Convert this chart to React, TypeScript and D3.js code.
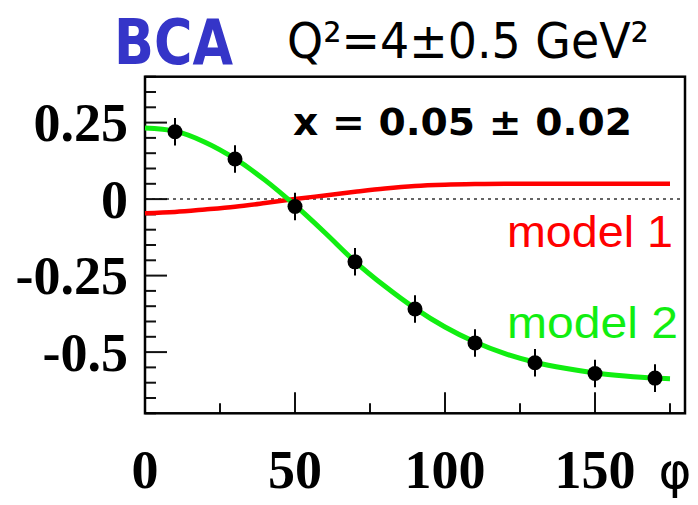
import * as d3 from 'd3';
import React from 'react';

// measured points (phi in degrees, BCA value, error)
const phiPoints = [10, 30, 50, 70, 90, 110, 130, 150, 170];
const bcaPoints = [0.22, 0.131, -0.024, -0.205, -0.359, -0.47, -0.535, -0.57, -0.585];
const bcaErrors = [0.045, 0.045, 0.045, 0.045, 0.045, 0.045, 0.045, 0.045, 0.045];

// model curves
const phiModel2 = [0, 10, 20, 30, 40, 50, 60, 70, 80, 90, 100, 110, 120, 130, 140, 150, 160, 170, 175];
const bcaModel2 = [0.232, 0.222, 0.186, 0.132, 0.062, -0.02, -0.11, -0.204, -0.285, -0.357, -0.418, -0.467, -0.505, -0.533, -0.553, -0.568, -0.578, -0.585, -0.587];
const phiModel1 = [0, 10, 20, 30, 40, 50, 60, 70, 80, 90, 100, 110, 120, 140, 160, 175];
const bcaModel1 = [-0.046, -0.042, -0.034, -0.025, -0.013, 0.0, 0.012, 0.024, 0.035, 0.043, 0.047, 0.049, 0.05, 0.05, 0.05, 0.05];

const xTickLabels = [0, 50, 100, 150];
const yTickLabels = [0.25, 0, -0.25, -0.5];

export default function App() {
  const svgRef = React.useRef<SVGSVGElement>(null);

  React.useEffect(() => {
    if (svgRef.current == null) {
      return;
    }
    const svg = d3.select(svgRef.current);
    svg.selectAll('*').remove();

    const left = 145;
    const right = 685;
    const top = 76.7;
    const bottom = 413.3;

    const xScale = d3.scaleLinear().domain([0, 180]).range([left, right]);
    const yScale = d3.scaleLinear().domain([-0.7, 0.4]).range([bottom, top]);

    // zero line
    svg
      .append('line')
      .attr('x1', left)
      .attr('x2', right)
      .attr('y1', yScale(0))
      .attr('y2', yScale(0))
      .attr('stroke', '#333')
      .attr('stroke-width', 1.5)
      .attr('stroke-dasharray', '3,4');

    // y ticks: minor every 0.05, major every 0.25
    const yTicks = d3.range(-14, 9).map((i) => i * 0.05);
    yTicks.forEach((v) => {
      const major = Math.abs(Math.round(v / 0.05) % 5) === 0;
      svg
        .append('line')
        .attr('x1', left)
        .attr('x2', left + (major ? 22 : 11))
        .attr('y1', yScale(v))
        .attr('y2', yScale(v))
        .attr('stroke', '#111')
        .attr('stroke-width', 2);
    });

    // x ticks
    const xTicks = d3.range(25, 180, 25);
    xTicks.forEach((v) => {
      const major = v % 50 === 0;
      svg
        .append('line')
        .attr('x1', xScale(v))
        .attr('x2', xScale(v))
        .attr('y1', bottom)
        .attr('y2', bottom - (major ? 21 : 10))
        .attr('stroke', '#111')
        .attr('stroke-width', 2);
    });

    // frame
    svg
      .append('rect')
      .attr('x', left)
      .attr('y', top)
      .attr('width', right - left)
      .attr('height', bottom - top)
      .attr('fill', 'none')
      .attr('stroke', '#000')
      .attr('stroke-width', 2.5);

    const line = d3
      .line<[number, number]>()
      .x((d) => xScale(d[0]))
      .y((d) => yScale(d[1]))
      .curve(d3.curveMonotoneX);

    svg
      .append('path')
      .attr('d', line(phiModel1.map((p, i) => [p, bcaModel1[i]] as [number, number])))
      .attr('fill', 'none')
      .attr('stroke', '#ff0000')
      .attr('stroke-width', 4.5);

    svg
      .append('path')
      .attr('d', line(phiModel2.map((p, i) => [p, bcaModel2[i]] as [number, number])))
      .attr('fill', 'none')
      .attr('stroke', '#11ee11')
      .attr('stroke-width', 5);

    for (let i = 0; i < phiPoints.length; i++) {
      svg
        .append('line')
        .attr('x1', xScale(phiPoints[i]))
        .attr('x2', xScale(phiPoints[i]))
        .attr('y1', yScale(bcaPoints[i] - bcaErrors[i]))
        .attr('y2', yScale(bcaPoints[i] + bcaErrors[i]))
        .attr('stroke', '#000')
        .attr('stroke-width', 2);
      svg
        .append('circle')
        .attr('cx', xScale(phiPoints[i]))
        .attr('cy', yScale(bcaPoints[i]))
        .attr('r', 7.5)
        .attr('fill', '#000');
    }

    // axis labels
    svg
      .selectAll('.ylab')
      .data(yTickLabels)
      .enter()
      .append('text')
      .attr('x', 128)
      .attr('y', (d) => yScale(d) + 18.5)
      .attr('text-anchor', 'end')
      .style('font', 'bold 54px "Liberation Serif"')
      .text((d) => String(d));

    svg
      .selectAll('.xlab')
      .data(xTickLabels)
      .enter()
      .append('text')
      .attr('x', (d) => xScale(d))
      .attr('y', 488)
      .attr('text-anchor', 'middle')
      .style('font', 'bold 54px "Liberation Serif"')
      .text((d) => String(d));

    svg
      .append('text')
      .attr('x', 675)
      .attr('y', 488)
      .attr('text-anchor', 'middle')
      .style('font', '50px "DejaVu Sans"')
      .text('φ');

    // titles
    svg
      .append('text')
      .attr('x', 114)
      .attr('y', 64)
      .attr('fill', '#3535c8')
      .attr('textLength', 119)
      .attr('lengthAdjust', 'spacingAndGlyphs')
      .style('font', 'bold 62px "DejaVu Sans"')
      .text('BCA');

    svg
      .append('text')
      .attr('x', 287)
      .attr('y', 58)
      .attr('textLength', 362)
      .attr('lengthAdjust', 'spacingAndGlyphs')
      .style('font', '50px "DejaVu Sans"')
      .text('Q²=4±0.5 GeV²');

    svg
      .append('text')
      .attr('x', 293)
      .attr('y', 135)
      .attr('textLength', 339)
      .attr('lengthAdjust', 'spacingAndGlyphs')
      .style('font', 'bold 38px "DejaVu Sans"')
      .text('x = 0.05 ± 0.02');

    svg
      .append('text')
      .attr('x', 507)
      .attr('y', 247)
      .attr('fill', '#ff0000')
      .attr('textLength', 166)
      .attr('lengthAdjust', 'spacingAndGlyphs')
      .style('font', '44px "Liberation Sans"')
      .text('model 1');

    svg
      .append('text')
      .attr('x', 507)
      .attr('y', 338)
      .attr('fill', '#11ee11')
      .attr('textLength', 171)
      .attr('lengthAdjust', 'spacingAndGlyphs')
      .style('font', '44px "Liberation Sans"')
      .text('model 2');
  }, []);

  return (
    <svg
      ref={svgRef}
      width={698}
      height={505}
      style={{ position: 'absolute', left: 0, top: 0, background: '#fff' }}
    ></svg>
  );
}
